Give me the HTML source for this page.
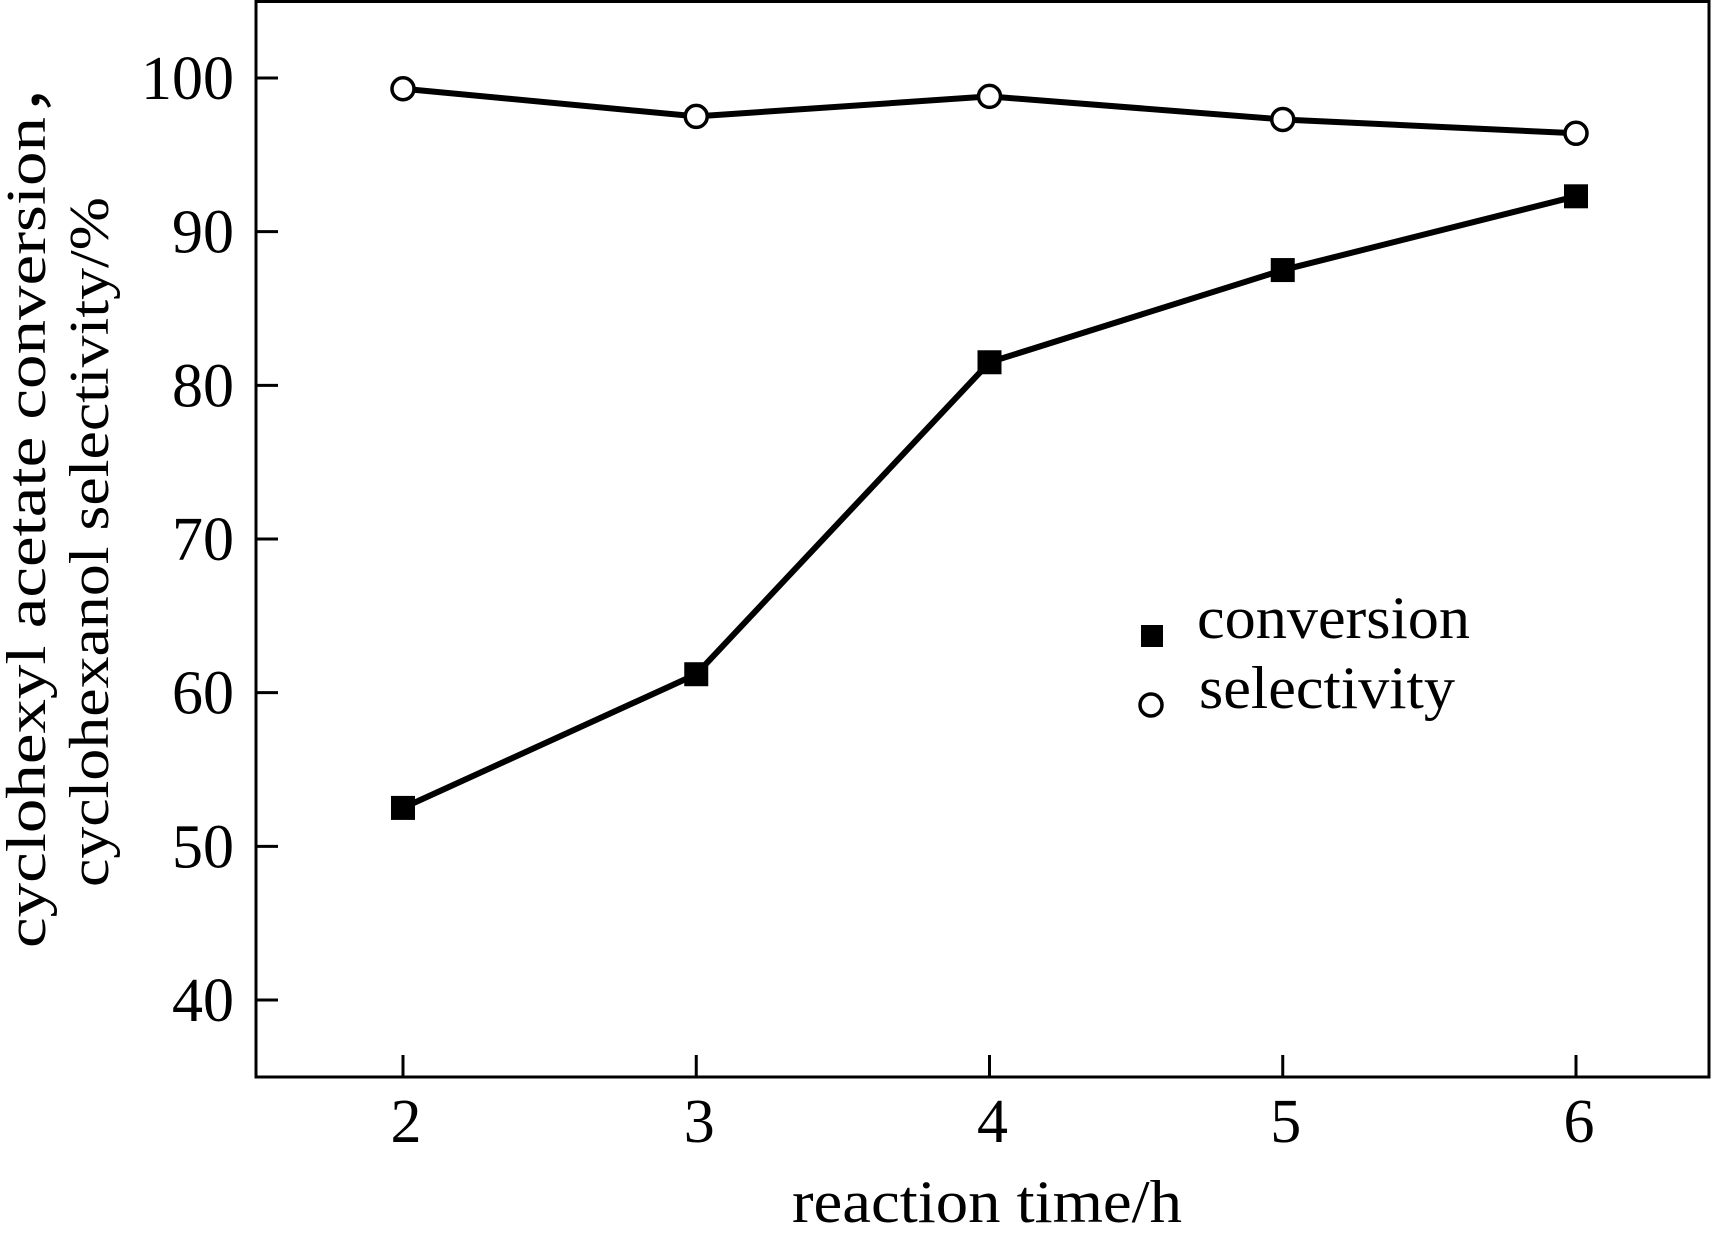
<!DOCTYPE html>
<html><head><meta charset="utf-8"><style>
html,body{margin:0;padding:0;background:#fff;}
svg{display:block;font-family:"Liberation Serif","Times New Roman",serif;}
</style></head><body>
<svg id="chart" width="1725" height="1240" viewBox="0 0 1725 1240">
<rect x="256" y="1.5" width="1453" height="1075.5" fill="none" stroke="#000" stroke-width="3"/>
<g id="axes"></g><g id="series"></g>
<g>
 <rect x="1141" y="625" width="22" height="22" fill="#000"/>
 <text x="1197" y="638" font-size="60" textLength="273" lengthAdjust="spacingAndGlyphs">conversion</text>
 <circle cx="1151" cy="705" r="11" fill="#fff" stroke="#000" stroke-width="3.5"/>
 <text x="1199" y="708" font-size="60" textLength="256" lengthAdjust="spacingAndGlyphs">selectivity</text>
</g>
<text x="987" y="1222" font-size="60" text-anchor="middle" textLength="390" lengthAdjust="spacingAndGlyphs">reaction time/h</text>
<text transform="translate(45,498) rotate(-90)" font-size="56" text-anchor="middle" textLength="900" lengthAdjust="spacingAndGlyphs">cyclohexyl acetate conversion，</text>
<text transform="translate(108,542) rotate(-90)" font-size="56" text-anchor="middle" textLength="690" lengthAdjust="spacingAndGlyphs">cyclohexanol selectivity/%</text>
</svg>
<script>
var categories=[2,3,4,5,6];
var conversion=[52.5,61.2,81.5,87.5,92.3];
var selectivity=[99.3,97.5,98.8,97.3,96.4];
var yTicks=[40,50,60,70,80,90,100];
var xTicks=[2,3,4,5,6];
var NS="http://www.w3.org/2000/svg";
function X(v){return 403+(v-2)*293.25;}
function Y(v){return 1000-(v-40)*15.367;}
function mk(tag,attrs,parent){var e=document.createElementNS(NS,tag);for(var k in attrs){e.setAttribute(k,String(attrs[k]));}parent.appendChild(e);return e;}
var axes=document.getElementById('axes'),ser=document.getElementById('series');
for(var i=0;i<yTicks.length;i++){
 var t=yTicks[i];
 var tk=mk('line',{x1:256,x2:278,y1:Y(t),y2:Y(t),stroke:'#000','stroke-width':3},axes);
 
 
 var tl=mk('text',{x:234,y:Y(t)+21,'font-size':62,'text-anchor':'end'},axes);
 tl.appendChild(document.createTextNode(String(t)));
 
 
}
for(var j=0;j<xTicks.length;j++){
 var u=xTicks[j];
 var xk=mk('line',{x1:X(u),x2:X(u),y1:1077,y2:1055,stroke:'#000','stroke-width':3},axes);
 
 
 var xl=mk('text',{x:X(u)+3,y:1142,'font-size':62,'text-anchor':'middle'},axes);
 xl.appendChild(document.createTextNode(String(u)));
 
 
}
function pts(vals){var s=[];for(var i=0;i<vals.length;i++){s.push(X(categories[i])+','+Y(vals[i]));}return s.join(' ');}
var sl=mk('polyline',{points:pts(selectivity),fill:'none',stroke:'#000','stroke-width':6},ser);


var cl=mk('polyline',{points:pts(conversion),fill:'none',stroke:'#000','stroke-width':6},ser);


for(var a=0;a<selectivity.length;a++){
 var c=mk('circle',{cx:X(categories[a]),cy:Y(selectivity[a]),r:11,fill:'#fff',stroke:'#000','stroke-width':3.5},ser);
 
 
}
for(var b=0;b<conversion.length;b++){
 var r=mk('rect',{x:X(categories[b])-12,y:Y(conversion[b])-12,width:24,height:24,fill:'#000'},ser);
 
 
}
</script>
</body></html>
